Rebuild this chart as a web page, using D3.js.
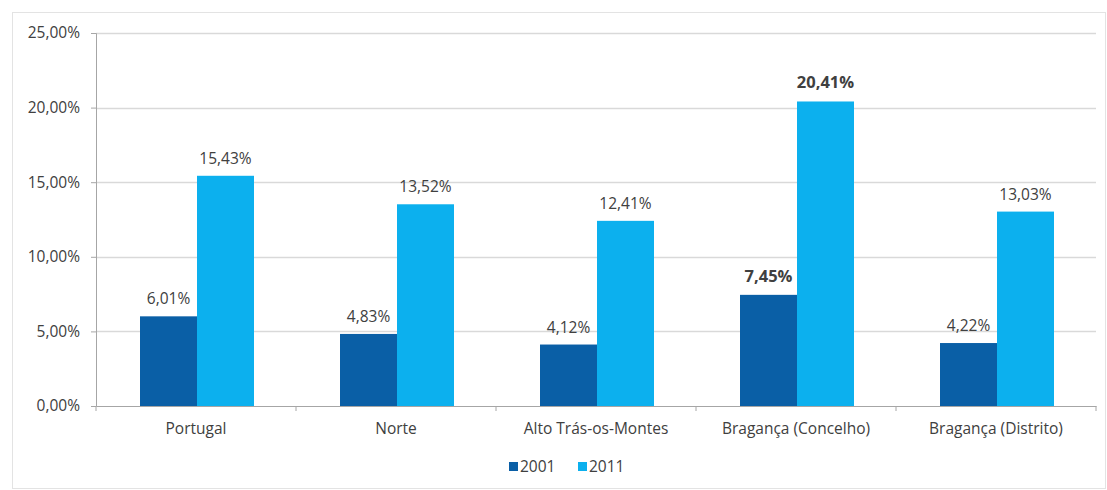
<!DOCTYPE html>
<html>
<head>
<meta charset="utf-8">
<script src="https://cdn.jsdelivr.net/npm/d3@7"></script>
<style>
  body { margin: 0; background: #fff; }
  text { font-family: "Open Sans", "DejaVu Sans", sans-serif; fill: #404040; }
</style>
</head>
<body>
<div id="chart"></div>
<script>
// data
var categories = ["Portugal", "Norte", "Alto Trás-os-Montes", "Bragança (Concelho)", "Bragança (Distrito)"]
var series = ["2001", "2011"]
var values2001 = [6.01, 4.83, 4.12, 7.45, 4.22]
var values2011 = [15.43, 13.52, 12.41, 20.41, 13.03]
var yTicks = [0, 5, 10, 15, 20, 25]
var highlight = "Bragança (Concelho)"
var colors = ["#0a5fa6", "#0cb0ee"]

var svgWdth = 1107
var svgHt = 490
var margin = { top: 33, right: 11, bottom: 84, left: 96 }
var width = svgWdth - margin.left - margin.right
var height = svgHt - margin.top - margin.bottom

var svg = d3.select("#chart").append("svg")
  .attr("width", svgWdth)
  .attr("height", svgHt)

// outer frame
svg.append("rect")
  .attr("x", 12.5).attr("y", 12.5)
  .attr("width", svgWdth - 14).attr("height", svgHt - 14)
  .attr("fill", "none").attr("stroke", "#e3e3e3")

var chartGroup = svg.append("g")
  .attr("transform", `translate(${margin.left}, ${margin.top})`)

var x0 = d3.scaleBand().domain(categories).range([0, width]).paddingInner(0).paddingOuter(0)
var x1 = d3.scaleBand().domain(series).range([44, x0.bandwidth() - 42]).padding(0)
var y = d3.scaleLinear().domain([0, 25]).range([height, 0])

var fmt = function(v) { return v.toFixed(2).replace(".", ",") + "%" }

// gridlines
chartGroup.append("g").selectAll("line")
  .data(yTicks.filter(function(t) { return t > 0 }))
  .join("line")
  .attr("x1", 0).attr("x2", width)
  .attr("y1", function(d) { return Math.round(y(d)) + 0.5 })
  .attr("y2", function(d) { return Math.round(y(d)) + 0.5 })
  .attr("stroke", "#d9d9d9").attr("stroke-width", 1.5)

// y axis
var yAxis = chartGroup.append("g")
  .call(d3.axisLeft(y).tickValues(yTicks).tickSize(5).tickPadding(11).tickFormat(fmt))
yAxis.select(".domain").attr("stroke", "#a6a6a6")
yAxis.selectAll(".tick line").attr("stroke", "#a6a6a6")
yAxis.selectAll(".tick text").style("font-size", "15.5px").attr("fill", "#404040")

// bars
var data = categories.map(function(c, i) {
  return { cat: c, vals: [{ s: "2001", v: values2001[i] }, { s: "2011", v: values2011[i] }] }
})

var groups = chartGroup.selectAll(".grp").data(data).join("g")
  .attr("class", "grp")
  .attr("transform", function(d) { return `translate(${x0(d.cat)},0)` })

groups.selectAll("rect").data(function(d) { return d.vals }).join("rect")
  .attr("x", function(d) { return x1(d.s) })
  .attr("width", x1.bandwidth())
  .attr("y", function(d) { return y(d.v) })
  .attr("height", function(d) { return height - y(d.v) })
  .attr("fill", function(d, i) { return colors[i] })

groups.selectAll(".lbl").data(function(d) { return d.vals.map(function(v) { return { s: v.s, v: v.v, hl: d.cat === highlight } }) })
  .join("text")
  .attr("class", "lbl")
  .attr("x", function(d) { return x1(d.s) + x1.bandwidth() / 2 })
  .attr("y", function(d) { return y(d.v) - (d.hl ? 13 : 12) })
  .attr("text-anchor", "middle")
  .style("font-size", function(d) { return d.hl ? "16.5px" : "15.5px" })
  .style("font-weight", function(d) { return d.hl ? "bold" : "normal" })
  .attr("fill", function(d) { return d.hl ? "#1a1a1a" : "#404040" })
  .text(function(d) { return fmt(d.v) })

// x axis
var xAxis = chartGroup.append("g")
  .attr("transform", `translate(0, ${height})`)
  .call(d3.axisBottom(x0).tickSize(0).tickPadding(17))
xAxis.select(".domain").attr("stroke", "#a6a6a6")
xAxis.selectAll(".tick text").style("font-size", "15.5px").attr("fill", "#404040")
xAxis.selectAll(".sep").data(d3.range(categories.length + 1)).join("line")
  .attr("class", "sep")
  .attr("x1", function(i) { return i * x0.bandwidth() }).attr("x2", function(i) { return i * x0.bandwidth() })
  .attr("y1", 0).attr("y2", 5)
  .attr("stroke", "#a6a6a6")

// legend
var legend = svg.append("g").attr("transform", "translate(509, 472)")
var legItems = legend.selectAll("g").data(series).join("g")
  .attr("transform", function(d, i) { return `translate(${i * 69}, 0)` })
legItems.append("rect")
  .attr("x", 0).attr("y", -10).attr("width", 9).attr("height", 9)
  .attr("fill", function(d, i) { return colors[i] })
legItems.append("text")
  .attr("x", 11).attr("y", 0)
  .style("font-size", "15.5px")
  .text(function(d) { return d })
</script>
</body>
</html>
